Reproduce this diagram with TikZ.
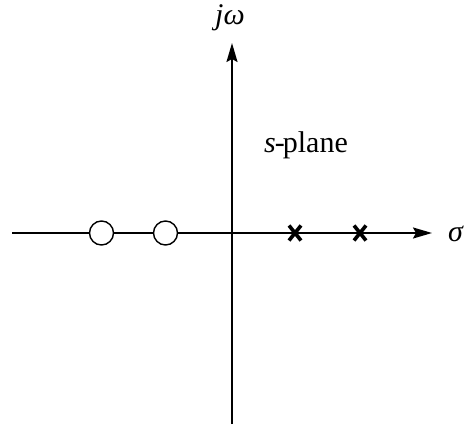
\documentclass[tikz,border=0pt]{standalone}
\usepackage{fontspec}
\setmainfont{Liberation Serif}
\usetikzlibrary{arrows.meta,calc}
\begin{document}
\begin{tikzpicture}[x=1pt,y=-1pt,
  axis/.style={line width=2pt,-{Stealth[length=19pt,width=11pt,inset=3pt]}},
  zero/.style={circle,draw,line width=1.4pt,fill=white,minimum size=24pt,inner sep=0pt},
  pole/.style={line width=3.6pt},
  lbl/.style={font=\fontsize{30}{33}\selectfont,inner sep=0pt}]
\useasboundingbox (0,0) rectangle (467,431);
\coordinate (xl) at (12,233);
\coordinate (xr) at (432,233);
\coordinate (yb) at (232,424);
\coordinate (yt) at (232,43);
\draw[axis] (xl) -- (xr);
\draw[axis] (yb) -- (yt);
\node[zero] (z1) at (101.5,233) {};
\node[zero] (z2) at (165.5,233) {};
\coordinate (p1) at (295,233);
\coordinate (p2) at (360,233);
\foreach \p in {p1,p2}{
  \draw[pole] ($(\p)+(-6,-7.5)$) -- ($(\p)+(6,7.5)$);
  \draw[pole] ($(\p)+(-6,7.5)$) -- ($(\p)+(6,-7.5)$);
}
\node[lbl,anchor=base] (sig) at (456,241) {\textit{σ}};
\node[lbl,anchor=base] (jw) at (230,24) {\textit{jω}};
\node[lbl,anchor=base west] (sp) at (264,152) {\textit{s}\kern-1pt-\kern-2pt plane};
\end{tikzpicture}
\end{document}
